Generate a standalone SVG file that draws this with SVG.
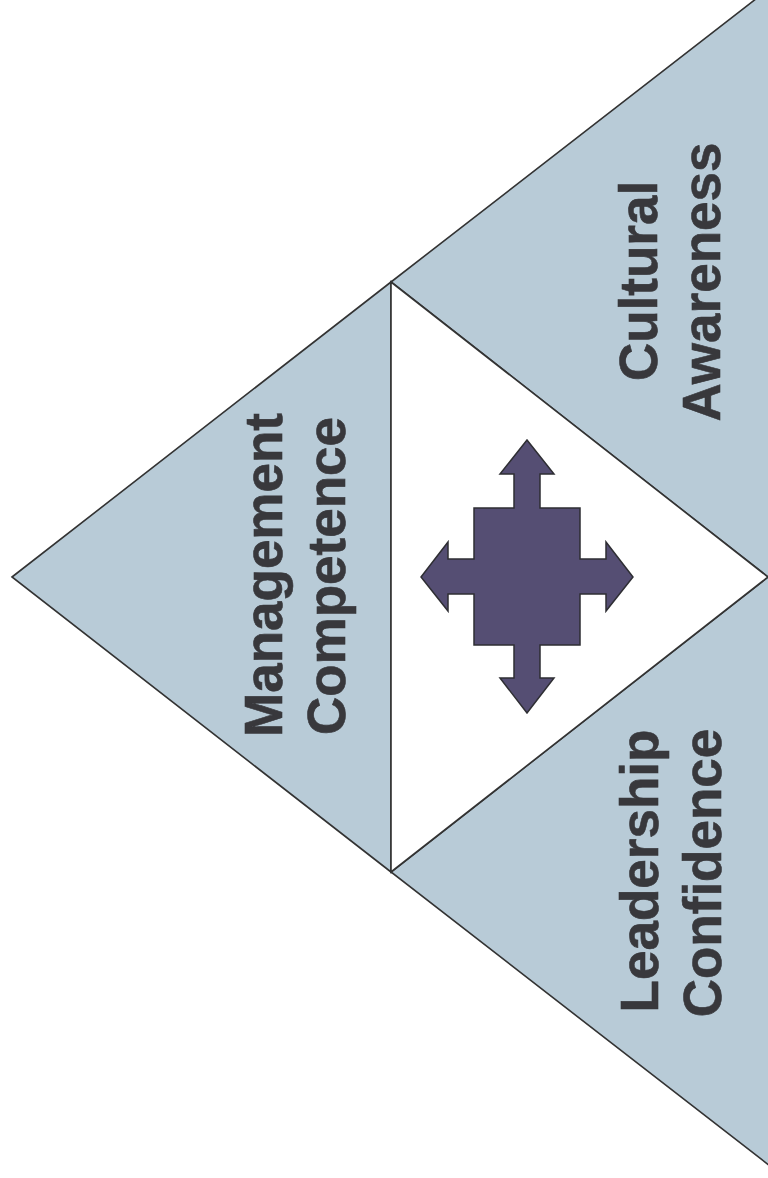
<svg xmlns="http://www.w3.org/2000/svg" width="768" height="1178" viewBox="0 0 768 1178">
<style>
.tri{fill:#b8cbd7;stroke:#333333;stroke-width:1.6;stroke-linejoin:miter}
.ctr{fill:#ffffff;stroke:#333333;stroke-width:1.6}
.lbl{font-family:"Liberation Sans",Arial,sans-serif;font-weight:bold;font-size:53px;fill:#38383c;text-anchor:middle;stroke:#38383c;stroke-width:0.6}
.arrow{fill:#554e73;stroke:#2e2e33;stroke-width:1.5;stroke-linejoin:miter}
</style>
<rect width="768" height="1178" fill="#ffffff"/>
<g id="node-management">
<polygon class="tri" points="12,577 391,282 391,872"/>
<text class="lbl" transform="translate(282,575) rotate(-90)">Management</text>
<text class="lbl" transform="translate(345,576) rotate(-90)">Competence</text>
</g>
<g id="node-cultural">
<polygon class="tri" points="391,282 770,-12 770,577 768,577"/>
<text class="lbl" transform="translate(657,281) rotate(-90)">Cultural</text>
<text class="lbl" transform="translate(720,282) rotate(-90)">Awareness</text>
</g>
<g id="node-leadership">
<polygon class="tri" points="391,872 768,577 770,577 770,1166"/>
<text class="lbl" transform="translate(658,871) rotate(-90)">Leadership</text>
<text class="lbl" transform="translate(721,873) rotate(-90)">Confidence</text>
</g>
<g id="node-center">
<polygon class="ctr" points="391,282 768,577 391,872"/>
<path class="arrow" d="M527,440 L554,474 L540,474 L540,508 L580,508 L580,559 L606,559 L606,542 L633,577 L606,611 L606,594 L580,594 L580,645 L540,645 L540,678 L554,678 L527,713 L500,678 L514,678 L514,645 L474,645 L474,594 L448,594 L448,611 L421,577 L448,542 L448,559 L474,559 L474,508 L514,508 L514,474 L500,474 Z"/>
</g>
<g id="connectors"></g>
</svg>
